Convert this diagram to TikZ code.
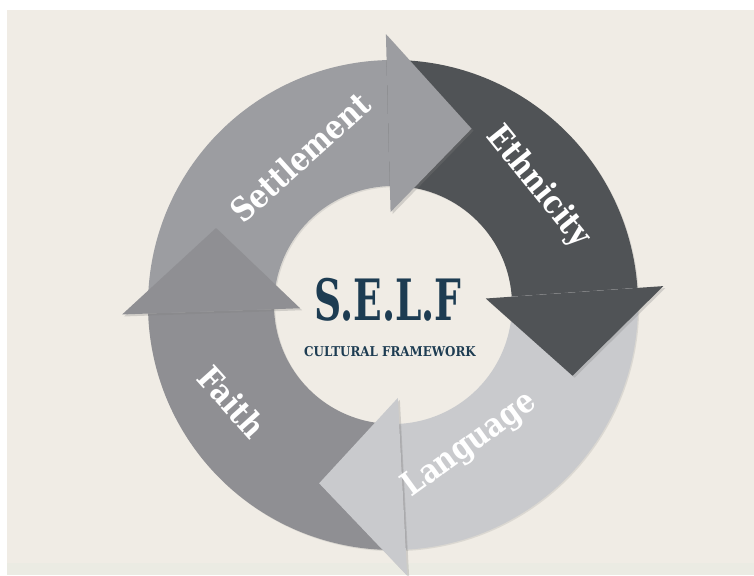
\documentclass[tikz,border=0pt]{standalone}
\usepackage{fontspec}
\setmainfont{DejaVu Serif}
\usetikzlibrary{shadows}

\definecolor{paper}{HTML}{F0ECE5}
\definecolor{paperlow}{HTML}{EBEBE3}
\definecolor{settlecol}{HTML}{9C9DA1}
\definecolor{ethniccol}{HTML}{505356}
\definecolor{langcol}{HTML}{C9CACD}
\definecolor{faithcol}{HTML}{8F8F93}
\definecolor{navy}{HTML}{1D3C52}

% ring geometry (1 unit = 1pt, origin at the ring centre)
\newcommand{\rout}{245}
\newcommand{\rin}{119}
\newcommand{\rwo}{271}
\newcommand{\rwi}{93}
\newcommand{\rtip}{193}

% curved band running clockwise from angle #1 to angle #2
\newcommand{\ringband}[3]{%
  \fill[#3, bandshadow] (#1:\rout) arc[start angle=#1, end angle=#2, radius=\rout]
    -- (#2:\rin) arc[start angle=#2, end angle=#1, radius=\rin] -- cycle;}
% triangular head with its base on angle #1, tip 25.5 degrees further on
\newcommand{\ringhead}[2]{%
  \fill[#2, headshadow] (#1:\rwi) -- (#1:\rwo) -- ({#1-25.5}:\rtip) -- cycle;}
% narrowed bold label text
\newcommand{\lbltext}[1]{\scalebox{0.86}[1]{#1}}

\tikzset{
  bandshadow/.style={drop shadow={shadow xshift=1.2pt, shadow yshift=-1.2pt, opacity=0.18}},
  headshadow/.style={drop shadow={shadow xshift=2pt, shadow yshift=-2pt, opacity=0.28}},
  label/.style={text=white, font=\fontsize{33}{33}\selectfont\bfseries, inner sep=0pt},
}

\begin{document}
\begin{tikzpicture}[x=1pt, y=1pt]
  \useasboundingbox (-393,-270) rectangle (361,305);
  % page and paper
  \fill[white] (-393,-270) rectangle (361,305);
  \fill[paper] (-386,-270) rectangle (361,295);
  \fill[paperlow] (-386,-270) rectangle (361,-258);

  \begin{scope}
    \clip (-386,-270) rectangle (361,295);
    % bands first, then every head on top of the following tail
    \ringband{182}{91.5}{settlecol}
    \ringband{91.5}{4}{ethniccol}
    \ringband{4}{-87}{langcol}
    \ringband{-87}{-178}{faithcol}
    \ringhead{91.5}{settlecol}
    \ringhead{4}{ethniccol}
    \ringhead{-87}{langcol}
    \ringhead{182}{faithcol}
  \end{scope}

  % labels on the arrows
  \node[label, rotate=42]  (settle) at (-93,148)  {\lbltext{Settlement}};
  \node[label, rotate=-51] (ethnic) at (145,118)  {\lbltext{Ethnicity}};
  \node[label, rotate=36]  (lang)   at (77,-140)  {\lbltext{Language}};
  \node[label, rotate=-48] (faith)  at (-161,-97) {\lbltext{Faith}};

  % centre title
  \node[text=navy, inner sep=0pt] (title) at (-5,5)
    {\scalebox{0.66}[1]{\fontsize{57}{57}\selectfont\bfseries S.E.L.F}};
  \node[text=navy, inner sep=0pt] (sub) at (-3,-47)
    {\scalebox{0.88}[1]{\fontsize{13.5}{13.5}\selectfont\bfseries CULTURAL FRAMEWORK}};
\end{tikzpicture}
\end{document}
